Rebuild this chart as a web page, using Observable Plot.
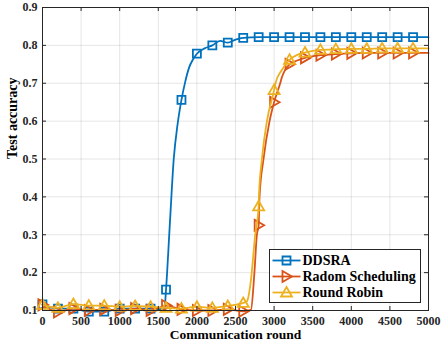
<!DOCTYPE html>
<html>
<head>
<meta charset="utf-8">
<script src="https://cdn.jsdelivr.net/npm/d3@7"></script>
<script src="https://cdn.jsdelivr.net/npm/@observablehq/plot@0.6"></script>
<style>
  html, body { margin: 0; padding: 0; background: #fff; }
  #chart { width: 443px; height: 343px; }
</style>
</head>
<body>
<div id="chart"></div>
<script>
// ---- Data ----
const seriesNames = ["DDSRA", "Radom Scheduling", "Round Robin"];
const seriesColors = ["#0072BD", "#D95319", "#EDB120"];

// markers every 200 rounds
const markerRounds = [0,200,400,600,800,1000,1200,1400,1600,1800,2000,2200,2400,2600,2800,3000,3200,3400,3600,3800,4000,4200,4400,4600,4800];
const ddsraMarkers = [0.116,0.105,0.105,0.097,0.097,0.105,0.105,0.105,0.155,0.656,0.778,0.800,0.807,0.820,0.822,0.822,0.822,0.822,0.822,0.822,0.822,0.822,0.822,0.822,0.822];
const radomMarkers = [0.115,0.096,0.105,0.100,0.103,0.100,0.105,0.100,0.113,0.103,0.100,0.100,0.103,0.098,0.325,0.650,0.750,0.767,0.774,0.777,0.779,0.780,0.780,0.780,0.780];
const robinMarkers = [0.115,0.107,0.117,0.113,0.113,0.110,0.112,0.110,0.107,0.105,0.110,0.107,0.112,0.120,0.375,0.682,0.762,0.781,0.788,0.790,0.791,0.791,0.792,0.792,0.792];

// extra line points between markers (where the curves bend)
const ddsraExtraX = [1580,1650,1700,1750,1850,1900,1950,2100,2300,2500,5000];
const ddsraExtraY = [0.103,0.330,0.500,0.592,0.705,0.742,0.763,0.792,0.812,0.815,0.822];
const radomExtraX = [2700,2745,2777,2811,2863,2941,3079,3100,3300,5000];
const radomExtraY = [0.102,0.200,0.300,0.400,0.500,0.600,0.700,0.715,0.760,0.780];
const robinExtraX = [2650,2700,2755,2803,2842,2907,3018,3100,3300,5000];
const robinExtraY = [0.125,0.180,0.300,0.400,0.500,0.600,0.700,0.735,0.775,0.792];

const xTicks = [0,500,1000,1500,2000,2500,3000,3500,4000,4500,5000];
const yTicks = [0.1,0.2,0.3,0.4,0.5,0.6,0.7,0.8,0.9];
const xLabel = "Communication round";
const yLabel = "Test accuracy";

// ---- Build tables ----
const markerSets = [ddsraMarkers, radomMarkers, robinMarkers];
const extraSets = [[ddsraExtraX, ddsraExtraY],[radomExtraX, radomExtraY],[robinExtraX, robinExtraY]];
const markerData = [];
const lineData = [];
seriesNames.forEach((s, i) => {
  const pts = markerRounds.map((r, j) => ({series: s, round: r, acc: markerSets[i][j]}));
  pts.forEach(p => markerData.push(p));
  const extra = extraSets[i][0].map((r, j) => ({series: s, round: r, acc: extraSets[i][1][j]}));
  const all = pts.concat(extra).sort((a, b) => a.round - b.round);
  all.forEach(p => lineData.push(p));
});

// ---- Custom marker symbols (fixed pixel size) ----
const symSquare = {draw(ctx) { const h = 4; ctx.moveTo(-h,-h); ctx.lineTo(h,-h); ctx.lineTo(h,h); ctx.lineTo(-h,h); ctx.closePath(); }};
const symUp = {draw(ctx) { ctx.moveTo(0,-5.5); ctx.lineTo(5.5,4); ctx.lineTo(-5.5,4); ctx.closePath(); }};
const symRight = {draw(ctx) { ctx.moveTo(5.5,0); ctx.lineTo(-4,5.5); ctx.lineTo(-4,-5.5); ctx.closePath(); }};
const symbols = [symSquare, symRight, symUp];

const W = 443, H = 343;
const mL = 42, mR = 15, mT = 7, mB = 33;
const frameW = W - mL - mR, frameH = H - mT - mB;
const font = "'Liberation Serif', 'Times New Roman', serif";
const axisColor = "#262626";

const marks = [
  Plot.gridX(xTicks, {stroke: "#000", strokeOpacity: 0.1}),
  Plot.gridY(yTicks, {stroke: "#000", strokeOpacity: 0.1}),
];
seriesNames.forEach((s, i) => {
  marks.push(Plot.line(lineData.filter(d => d.series === s), {
    x: "round", y: "acc", stroke: seriesColors[i], strokeWidth: 1.8, curve: "monotone-x"
  }));
  marks.push(Plot.dot(markerData.filter(d => d.series === s), {
    x: "round", y: "acc", symbol: () => symbols[i], stroke: seriesColors[i], strokeWidth: 1.8, fill: "none", r: 4
  }));
});
marks.push(
  Plot.tickX(xTicks, {x: d => d, insetTop: frameH - 4, stroke: axisColor}),
  Plot.tickX(xTicks, {x: d => d, insetBottom: frameH - 4, stroke: axisColor}),
  Plot.tickY(yTicks, {y: d => d, insetRight: frameW - 4, stroke: axisColor}),
  Plot.tickY(yTicks, {y: d => d, insetLeft: frameW - 4, stroke: axisColor}),
  Plot.frame({stroke: axisColor, strokeWidth: 1}),
  Plot.axisX(xTicks, {tickSize: 0, tickPadding: 6, label: null, tickFormat: d3.format("d")}),
  Plot.axisY(yTicks, {tickSize: 0, tickPadding: 5, label: null, tickFormat: d3.format(".1f")}),
  Plot.text([xLabel], {frameAnchor: "bottom", dy: 28.5, text: d => d, fontSize: 13.5, fontWeight: "bold", fill: "#000"}),
  Plot.text([yLabel], {frameAnchor: "left", dx: -29.5, rotate: -90, text: d => d, fontSize: 14, fontWeight: "bold", fill: "#000"})
);

const chart = Plot.plot({
  width: W, height: H,
  marginLeft: mL, marginRight: mR, marginTop: mT, marginBottom: mB,
  style: {fontFamily: font, fontSize: "12px", fontWeight: "bold", color: axisColor, background: "#fff", overflow: "visible"},
  x: {domain: [0, 5000], label: null},
  y: {domain: [0.1, 0.9], label: null},
  marks
});
document.getElementById("chart").appendChild(chart);

// ---- Legend (lower-right corner of the frame) ----
const svg = d3.select(chart);
const lg = svg.append("g").attr("transform", "translate(269.5,249.5)");
lg.append("rect").attr("width", 151).attr("height", 53).attr("fill", "#fff").attr("stroke", axisColor).attr("stroke-width", 1);
seriesNames.forEach((s, i) => {
  const row = lg.append("g").attr("transform", `translate(0,${11 + i * 16})`);
  row.append("line").attr("x1", 3).attr("x2", 31).attr("stroke", seriesColors[i]).attr("stroke-width", 1.8);
  const p = d3.path(); symbols[i].draw(p);
  row.append("path").attr("d", p.toString()).attr("transform", "translate(17,0)")
    .attr("fill", "none").attr("stroke", seriesColors[i]).attr("stroke-width", 1.8);
  row.append("text").attr("x", 33).attr("y", 0).attr("dy", "0.35em").attr("text-anchor", "start")
    .attr("font-family", font).attr("font-weight", "bold").attr("font-size", "14px").attr("fill", "#000").text(s);
});
</script>
</body>
</html>
